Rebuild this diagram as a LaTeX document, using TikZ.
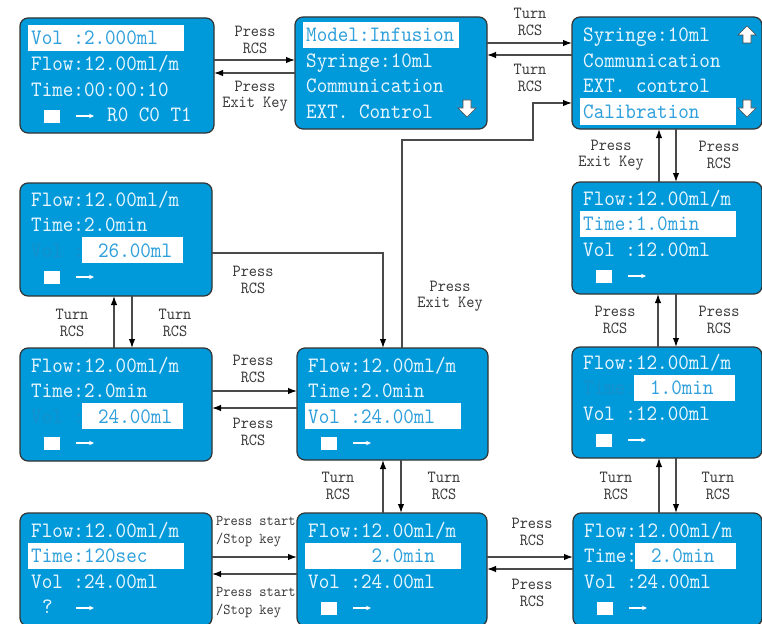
\documentclass[tikz,border=0pt]{standalone}
\usepackage{fontspec}
\newfontfamily\lcd{lmmono10-regular.otf}[FakeStretch=0.915]
\usetikzlibrary{arrows.meta}
\definecolor{screen}{HTML}{0099D9}
\definecolor{lcdtext}{HTML}{E8F6FF}
\definecolor{hltext}{HTML}{2FA0DC}
\definecolor{faint}{HTML}{1590CC}
\definecolor{wire}{HTML}{4A4A4A}
\definecolor{labeltext}{HTML}{3A3A3A}
\tikzset{
  dnkey/.pic={\filldraw[fill=white,draw=black!70,line width=0.6pt]
    (-4,-8) -- (4,-8) -- (4,0) -- (9,0) -- (0,9) -- (-9,0) -- (-4,0) -- cycle;},
  upkey/.pic={\filldraw[fill=white,draw=black!70,line width=0.6pt]
    (-4,8) -- (4,8) -- (4,0) -- (9,0) -- (0,-9) -- (-9,0) -- (-4,0) -- cycle;}
}
\begin{document}
\begin{tikzpicture}
	[x=1pt,y=-1pt,
	screen/.style={draw=black!80,fill=screen,line width=1.2pt,rounded corners=8pt,
		anchor=north west,inner sep=0,outer sep=0},
	txt/.style={anchor=base west,inner sep=0,text=lcdtext,font=\lcd\fontsize{22}{25}\selectfont},
	hl/.style={fill=white},
	link/.style={draw=wire,line width=1.3pt,-{Latex[length=9pt,width=6.5pt,color=black]}},
	lbl/.style={align=center,inner sep=0,text=labeltext,font=\lcd\fontsize{17}{16.5}\selectfont},
	keylbl/.style={align=left,anchor=west,inner sep=0,text=labeltext,font=\lcd\fontsize{15}{18}\selectfont}]
	\useasboundingbox (0,0) rectangle (762,623);
	% screens
	\node (run) at (20,18) [screen,minimum width=194pt,minimum height=115pt] {};
	\node (model) at (295,17) [screen,minimum width=192pt,minimum height=112pt] {};
	\node (menu) at (572,17) [screen,minimum width=190pt,minimum height=112pt] {};
	\node (vola) at (20,183) [screen,minimum width=192pt,minimum height=113pt] {};
	\node (volb) at (20,348) [screen,minimum width=192pt,minimum height=113pt] {};
	\node (flowvol) at (297,348) [screen,minimum width=191pt,minimum height=112pt] {};
	\node (timea) at (572,182) [screen,minimum width=190pt,minimum height=112pt] {};
	\node (timeb) at (572,347) [screen,minimum width=190pt,minimum height=111pt] {};
	\node (count) at (20,513) [screen,minimum width=192pt,minimum height=113pt] {};
	\node (timec) at (297,513) [screen,minimum width=190pt,minimum height=113pt] {};
	\node (timed) at (573,513) [screen,minimum width=189pt,minimum height=113pt] {};
	% highlighted rows
	\fill[hl] (28,25) rectangle (184,51);
	\fill[hl] (303,22) rectangle (459,48);
	\fill[hl] (580,98.5) rectangle (736,124.5);
	\fill[hl] (82,237) rectangle (183,263);
	\fill[hl] (82,403) rectangle (183,429);
	\fill[hl] (305,403) rectangle (461,429);
	\fill[hl] (580,210.5) rectangle (736,236.5);
	\fill[hl] (634,374.5) rectangle (735,400.5);
	\fill[hl] (28,542.5) rectangle (184,568.5);
	\fill[hl] (305,542.5) rectangle (461,568.5);
	\fill[hl] (635,542.5) rectangle (736,568.5);
	% stop squares and run arrows
	\foreach \x/\y in {20/45,20/206,20/372,297/372,572/205,572/369,297/537,573/537}{
		\fill[white] (\x+24,\y+65) rectangle (\x+40,\y+78);
		\draw[white,line width=1.1pt,-{Stealth[length=5pt,width=4.5pt]}] (\x+56,\y+71) -- (\x+74,\y+71);
	}
	\draw[white,line width=1.1pt,-{Stealth[length=5pt,width=4.5pt]}] (76,608) -- (94,608);
	% run screen
	\node (run1) at (31,45) [txt,text=hltext] {Vol :2.000ml};
	\node (run2) at (31,70.5) [txt] {Flow:12.00ml/m};
	\node (run3) at (31,96) [txt] {Time:00:00:10};
	\node (run4) at (107,121.5) [txt] {R0  C0 T1};
	% model screen
	\node (model1) at (306,42) [txt,text=hltext] {Model:Infusion};
	\node (model2) at (306,67.5) [txt] {Syringe:10ml};
	\node (model3) at (306,93) [txt] {Communication};
	\node (model4) at (306,118.5) [txt] {EXT. Control};
	\pic at (467,108) {dnkey};
	% menu screen
	\node (menu1) at (583,42) [txt] {Syringe:10ml};
	\node (menu2) at (583,67.5) [txt] {Communication};
	\node (menu3) at (583,93) [txt] {EXT. control};
	\node (menu4) at (583,118.5) [txt,text=hltext] {Calibration};
	\pic at (747,35) {upkey};
	\pic at (747,108) {dnkey};
	% volume 26
	\node (vola1) at (31,206) [txt] {Flow:12.00ml/m};
	\node (vola2) at (31,231.5) [txt] {Time:2.0min};
	\node (vola3) at (31,257) [txt] {\textcolor{faint}{Vol :} \textcolor{hltext}{26.00ml}};
	% volume 24
	\node (volb1) at (31,372) [txt] {Flow:12.00ml/m};
	\node (volb2) at (31,397.5) [txt] {Time:2.0min};
	\node (volb3) at (31,423) [txt] {\textcolor{faint}{Vol :} \textcolor{hltext}{24.00ml}};
	% flow / volume
	\node (flowvol1) at (308,372) [txt] {Flow:12.00ml/m};
	\node (flowvol2) at (308,397.5) [txt] {Time:2.0min};
	\node (flowvol3) at (308,423) [txt,text=hltext] {Vol :24.00ml};
	% time 1.0
	\node (timea1) at (583,205) [txt] {Flow:12.00ml/m};
	\node (timea2) at (583,230.5) [txt,text=hltext] {Time:1.0min};
	\node (timea3) at (583,256) [txt] {Vol :12.00ml};
	\node (timeb1) at (583,369) [txt] {Flow:12.00ml/m};
	\node (timeb2) at (583,394.5) [txt] {\textcolor{faint}{Time:} \textcolor{hltext}{1.0min}};
	\node (timeb3) at (583,420) [txt] {Vol :12.00ml};
	% countdown
	\node (count1) at (31,537) [txt] {Flow:12.00ml/m};
	\node (count2) at (31,562.5) [txt,text=hltext] {Time:120sec};
	\node (count3) at (31,588) [txt] {Vol :24.00ml};
	\node (count4) at (42,613.5) [txt] {?};
	% time 2.0
	\node (timec1) at (308,537) [txt] {Flow:12.00ml/m};
	\node (timec2) at (308,562.5) [txt,text=hltext] {\hphantom{Time:} 2.0min};
	\node (timec3) at (308,588) [txt] {Vol :24.00ml};
	\node (timed1) at (584,537) [txt] {Flow:12.00ml/m};
	\node (timed2) at (584,562.5) [txt] {Time: \textcolor{hltext}{2.0min}};
	\node (timed3) at (584,588) [txt] {Vol :24.00ml};
	% connectors
	\draw [link] (run.east |- 0,60) -- (model.west |- 0,60);
	\draw [link] (model.west |- 0,73) -- (run.east |- 0,73);
	\draw [link] (model.east |- 0,43) -- (menu.west |- 0,43);
	\draw [link] (menu.west |- 0,55) -- (model.east |- 0,55);
	\draw [link] (flowvol.north -| 402,0) -- (402,140) -| (533,103) -- (menu.west |- 0,103);
	\draw [link] (vola.east |- 0,253) -| (flowvol.north -| 383,0);
	\draw [link] (volb.north -| 114,0) -- (vola.south -| 114,0);
	\draw [link] (vola.south -| 132,0) -- (volb.north -| 132,0);
	\draw [link] (volb.east |- 0,391) -- (flowvol.west |- 0,391);
	\draw [link] (flowvol.west |- 0,408) -- (volb.east |- 0,408);
	\draw [link] (timec.north -| 383,0) -- (flowvol.south -| 383,0);
	\draw [link] (flowvol.south -| 401,0) -- (timec.north -| 401,0);
	\draw [link] (count.east |- 0,557) -- (timec.west |- 0,557);
	\draw [link] (timec.west |- 0,574) -- (count.east |- 0,574);
	\draw [link] (timec.east |- 0,557) -- (timed.west |- 0,557);
	\draw [link] (timed.west |- 0,569) -- (timec.east |- 0,569);
	\draw [link] (timed.north -| 659,0) -- (timeb.south -| 659,0);
	\draw [link] (timeb.south -| 676,0) -- (timed.north -| 676,0);
	\draw [link] (timeb.north -| 658,0) -- (timea.south -| 658,0);
	\draw [link] (timea.south -| 676,0) -- (timeb.north -| 676,0);
	\draw [link] (timea.north -| 659,0) -- (menu.south -| 659,0);
	\draw [link] (menu.south -| 676,0) -- (timea.north -| 676,0);
	% connector labels
	\node (l1) at (255,40) [lbl] {Press\\RCS};
	\node (l2) at (255,96) [lbl] {Press\\Exit Key};
	\node (l3) at (530,22) [lbl] {Turn\\RCS};
	\node (l4) at (530,78) [lbl] {Turn\\RCS};
	\node (l5) at (450,296) [lbl] {Press\\Exit Key};
	\node (l6) at (253,280) [lbl] {Press\\RCS};
	\node (l7) at (72,323) [lbl] {Turn\\RCS};
	\node (l8) at (175,323) [lbl] {Turn\\RCS};
	\node (l9) at (253,369) [lbl] {Press\\RCS};
	\node (l10) at (253,432) [lbl] {Press\\RCS};
	\node (l11) at (338,486) [lbl] {Turn\\RCS};
	\node (l12) at (444,486) [lbl] {Turn\\RCS};
	\node (l13) at (216,532) [keylbl] {Press start\\/Stop key};
	\node (l14) at (216,603) [keylbl] {Press start\\/Stop key};
	\node (l15) at (532,532) [lbl] {Press\\RCS};
	\node (l16) at (532,593) [lbl] {Press\\RCS};
	\node (l17) at (616,486) [lbl] {Turn\\RCS};
	\node (l18) at (718,486) [lbl] {Turn\\RCS};
	\node (l19) at (615,320) [lbl] {Press\\RCS};
	\node (l20) at (719,320) [lbl] {Press\\RCS};
	\node (l21) at (611,155) [lbl] {Press\\Exit Key};
	\node (l22) at (719,155) [lbl] {Press\\RCS};
\end{tikzpicture}
\end{document}
